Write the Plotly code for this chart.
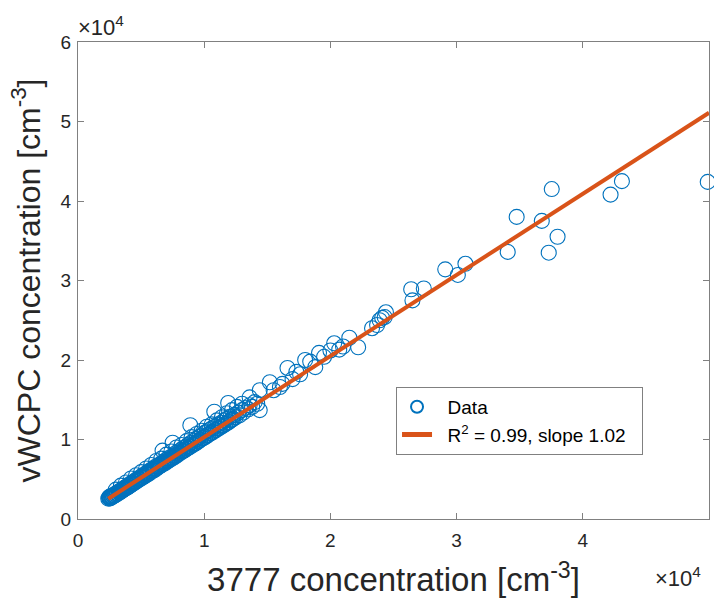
import plotly.graph_objects as go

# ---- data (cm^-3) ----
x_3777 = [
    2400, 2450, 2500, 2520, 2560, 2600, 2650, 2700, 2750, 2800, 2850, 2900, 2950, 3000,
    3080, 3120, 3200, 3250, 3300, 3380, 3450, 3500, 3580, 3650, 3700, 3780, 3850, 3920,
    4000, 4080, 4150, 4220, 4300, 4400, 4450, 4550, 4620, 4700, 4800, 4880, 4950, 5050,
    5150, 5250, 5350, 5450, 5500, 5600, 5700, 5800, 5900, 6000, 6100, 6200, 6300, 6400,
    6500, 6600, 6700, 6750, 6850, 6950, 7050, 7150, 7250, 7350, 7450, 7500, 7550, 7650,
    7750, 7850, 7950, 8050, 8150, 8250, 8350, 8450, 8550, 8650, 8750, 8850, 8900, 8950,
    9100, 9200, 9300, 9400, 9500, 9600, 9700, 9800, 9900, 10000, 10100, 10200, 10300,
    10400, 10500, 10600, 10700, 10800, 10850, 10950, 11100, 11200, 11350, 11450, 11600,
    11700, 11800, 11900, 11950, 12100, 12200, 12400, 12500, 12700, 12800, 13000, 13100,
    13300, 13500, 13600, 13800, 14000, 14200,
    2550, 2700, 2900, 3100, 3300, 3500, 3700, 3900, 4100, 4300, 4500, 4700, 4900, 5100,
    5300, 5500, 5700, 5900, 6100, 6300, 6500, 6700, 6900, 7100, 7300, 7500, 7700, 7900,
    8100, 8300, 8500, 8700, 8900, 9100, 9300, 9500, 9700, 9900, 10100, 10300, 10500,
    10700, 10900, 11100, 11300, 11500, 11700, 11900, 12100, 12300,
    3000, 3400, 3800, 4200, 4600, 5000, 5400, 5800, 6200, 6600, 7000, 7400, 7800, 8200,
    8600, 9000, 9400, 9800, 10200, 10600, 11000, 11400, 11800, 12200, 12600, 13000,
    13600, 14400, 14400, 15200, 15500, 16000, 16200, 16600, 17000, 17300, 17600, 18000,
    18400, 18800, 19100, 19500, 20000, 20300, 20700, 21000, 21500, 22200, 23300, 23700,
    23900, 24100, 24300, 24400, 26400, 26500, 27400, 29100, 30100, 30700, 34050, 34760,
    36750, 37300, 37540, 38000, 42200, 43100, 49900,
]
y_vwcpc = [
    2560, 2700, 2620, 2800, 2680, 2900, 2750, 2820, 2950, 2870, 3050, 2960, 3150, 3080,
    3300, 3180, 3400, 3300, 3520, 3450, 3650, 3560, 3800, 3720, 3950, 3850, 4100, 4000,
    4250, 4150, 4450, 4300, 4550, 4480, 4750, 4650, 4950, 4800, 5100, 4980, 5300, 5150,
    5500, 5350, 5700, 5550, 5900, 5700, 6100, 5950, 6300, 6100, 6550, 6320, 6700, 6550,
    6900, 6750, 8600, 7150, 6980, 7400, 7200, 7650, 7400, 7800, 7600, 9600, 8000, 7800,
    8300, 8000, 8500, 8250, 8700, 8450, 8900, 8650, 9100, 8850, 9350, 9050, 11800, 9600,
    9300, 9850, 9500, 10100, 9700, 10300, 9950, 10500, 10150, 10800, 10350, 11000, 10550,
    11200, 10750, 11400, 10950, 13500, 11600, 11200, 11900, 11450, 12100, 11700, 12400,
    11950, 12600, 14600, 12200, 12900, 12500, 13100, 12800, 13400, 13050, 13700, 13400,
    14000, 13800, 14300, 14100, 14700, 14500,
    2600, 2750, 2950, 3200, 3350, 3600, 3800, 3950, 4200, 4400, 4650, 4850, 5050, 5250,
    5450, 5700, 5900, 6100, 6300, 6500, 6700, 6950, 7150, 7350, 7550, 7750, 7950, 8150,
    8350, 8550, 8750, 8950, 9150, 9400, 9550, 9800, 9950, 10200, 10350, 10600, 10800,
    11000, 11200, 11400, 11600, 11800, 12000, 12200, 12400, 12600,
    3700, 4200, 4600, 5100, 5500, 5900, 6350, 6800, 7300, 7600, 8100, 8500, 9000, 9300,
    9800, 10300, 10700, 11100, 11600, 11900, 12400, 12800, 13300, 13700, 14100, 14500,
    15300, 13700, 16200, 17200, 16200, 16600, 17000, 19000, 17600, 18500, 18200, 20000,
    19800, 19100, 20900, 20400, 21200, 22100, 21300, 21700, 22800, 21600, 24000, 24400,
    25000, 25300, 25400, 26000, 28900, 27500, 29000, 31400, 30700, 32100, 33600, 38000,
    37500, 33500, 41500, 35500, 40800, 42500, 42400,
]

fit_slope = 1.02
fit_intercept = 100
fit_label = "R<sup>2</sup> = 0.99, slope 1.02"

x_range = [0, 50000]
y_range = [0, 60000]
x_tickvals = [0, 10000, 20000, 30000, 40000, 50000]
x_ticktext = ["0", "1", "2", "3", "4", "5"]
y_tickvals = [0, 10000, 20000, 30000, 40000, 50000, 60000]
y_ticktext = ["0", "1", "2", "3", "4", "5", "6"]

x_fit = [min(x_3777), x_range[1]]
y_fit = [fit_slope * v + fit_intercept for v in x_fit]

FONT = "Liberation Sans, Arial, sans-serif"
AX = "#808080"
TXT = "#262626"

fig = go.Figure()
fig.add_trace(go.Scatter(
    x=x_3777, y=y_vwcpc, mode="markers", name="  Data", cliponaxis=False,
    legendgroup="a",
    marker=dict(symbol="circle-open", size=15, color="#0072BD",
                line=dict(width=1.1, color="#0072BD")),
))
fig.add_trace(go.Scatter(
    x=x_fit, y=y_fit, mode="lines", name="  " + fit_label + "  ", legendgroup="b",
    line=dict(color="#D95319", width=4),
))

axis_common = dict(
    showline=True, linecolor=AX, linewidth=1, mirror="ticks",
    ticks="inside", ticklen=6, tickcolor=AX, showgrid=False, zeroline=False,
    tickfont=dict(family=FONT, size=19, color=TXT),
)
fig.update_xaxes(range=x_range, tickvals=x_tickvals, ticktext=x_ticktext,
                 ticklabelstandoff=4,
                 title=dict(text="3777 concentration [cm<sup>-3</sup>]",
                            font=dict(family=FONT, size=33, color=TXT), standoff=18),
                 **axis_common)
fig.update_yaxes(range=y_range, tickvals=y_tickvals, ticktext=y_ticktext,
                 ticklabelstandoff=2,
                 title=dict(text="vWCPC concentration [cm<sup>-3</sup>]",
                            font=dict(family=FONT, size=32, color=TXT), standoff=10),
                 **axis_common)

fig.add_annotation(xref="paper", yref="paper", x=0, y=1, xanchor="left", yanchor="bottom",
                   text="×10<sup>4</sup>", showarrow=False, yshift=0, xshift=-2,
                   font=dict(family=FONT, size=22, color=TXT))
fig.add_annotation(xref="paper", yref="paper", x=1, y=0, xanchor="right", yanchor="top",
                   text="×10<sup>4</sup>", showarrow=False, yshift=-42, xshift=-6,
                   font=dict(family=FONT, size=22, color=TXT))

fig.update_layout(
    width=714, height=605,
    margin=dict(l=78, r=5, t=42, b=86),
    plot_bgcolor="white", paper_bgcolor="white",
    showlegend=True,
    legend=dict(x=0.504, y=0.277, xanchor="left", yanchor="top",
                bgcolor="white", bordercolor=AX, borderwidth=1,
                font=dict(family=FONT, size=19, color="#000000"),
                itemsizing="constant", tracegroupgap=0),
)

fig.write_html("out.html")
